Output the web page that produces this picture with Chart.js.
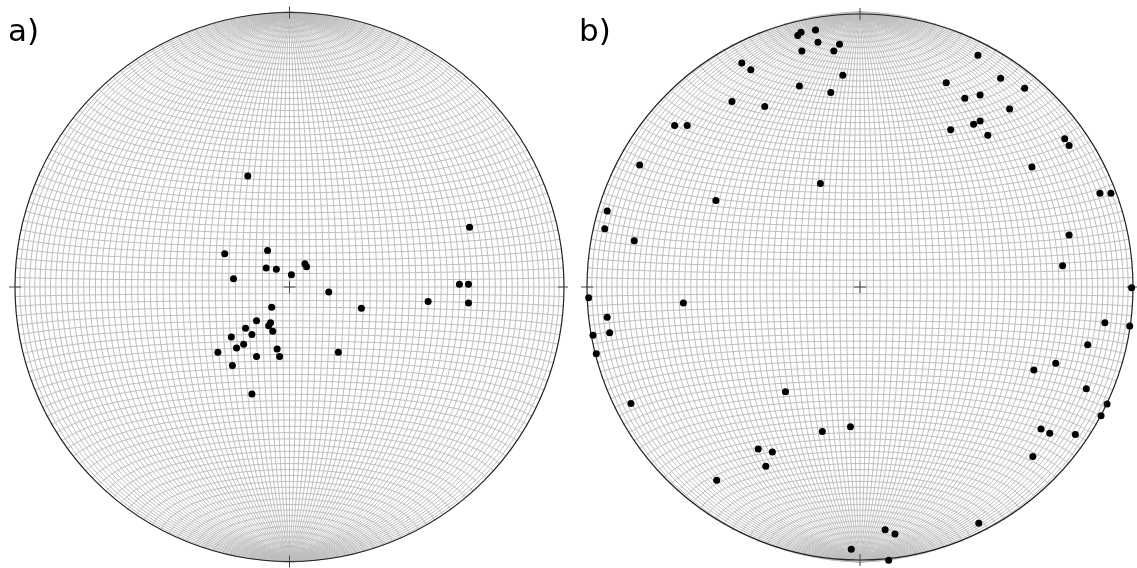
<!DOCTYPE html>
<html>
<head>
    <title>Stereonets a) and b)</title>
    <script src="https://cdn.jsdelivr.net/npm/chart.js"></script>
    <style>
        body { margin: 0; background: #fff; }
        #wrap { position: relative; width: 1137px; height: 568px; overflow: hidden; }
        canvas { position: absolute; top: 0; }
        .lbl { position: absolute; top: 12px; font-family: "DejaVu Sans", sans-serif; font-size: 31px; color: #000; }
    </style>
</head>
<body>
<div id="wrap">
    <canvas id="netA" width="568" height="568" style="left:0"></canvas>
    <canvas id="netB" width="569" height="568" style="left:568px"></canvas>
    <div class="lbl" style="left:8px">a)</div>
    <div class="lbl" style="left:579px">b)</div>
</div>

<script>
    // projected positions (unit circle, equal-area net)
    const aX = [-0.152, -0.236, -0.080, -0.085, -0.048, 0.056, 0.062, 0.007, -0.204, 0.143,
                0.262, -0.065, -0.120, -0.069, -0.076, -0.160, -0.137, -0.061, -0.212, -0.167,
                -0.193, -0.261, -0.045, -0.036, -0.120, -0.208, 0.178, -0.137, 0.656, 0.619,
                0.652, 0.505, 0.652];
    const aY = [0.404, 0.121, 0.133, 0.069, 0.065, 0.085, 0.074, 0.045, 0.030, -0.018,
                -0.077, -0.074, -0.123, -0.130, -0.141, -0.150, -0.173, -0.161, -0.182, -0.208,
                -0.222, -0.237, -0.225, -0.253, -0.253, -0.285, -0.237, -0.389, 0.217, 0.010,
                0.010, -0.053, -0.058];

    const bX = [-0.216, -0.228, -0.163, -0.154, -0.075, -0.213, -0.096, -0.433, -0.400, -0.063,
                -0.222, -0.107, -0.469, -0.349, -0.679, -0.633, -0.807, 0.432, 0.316, 0.515,
                0.603, 0.384, 0.440, 0.548, 0.440, 0.416, 0.332, 0.468, 0.750, 0.766,
                0.630, 0.879, 0.919, 0.766, -0.145, -0.528, -0.926, -0.935, -0.827, -0.994,
                -0.647, -0.926, -0.978, -0.917, -0.966, -0.273, -0.839, 0.742, 0.995, 0.897,
                0.988, 0.834, 0.717, 0.637, 0.829, 0.905, 0.883, 0.663, 0.695, 0.789,
                0.633, -0.035, -0.138, -0.373, -0.321, -0.345, -0.525, 0.092, 0.128, -0.032,
                0.105, 0.435];
    const bY = [0.926, 0.915, 0.935, 0.890, 0.883, 0.858, 0.858, 0.815, 0.790, 0.770,
                0.731, 0.707, 0.675, 0.656, 0.587, 0.587, 0.444, 0.843, 0.743, 0.759,
                0.723, 0.686, 0.698, 0.647, 0.604, 0.592, 0.572, 0.552, 0.539, 0.515,
                0.436, 0.341, 0.341, 0.189, 0.376, 0.315, 0.276, 0.212, 0.168, -0.039,
                -0.058, -0.110, -0.175, -0.166, -0.243, -0.381, -0.424, 0.077, -0.003, -0.130,
                -0.142, -0.210, -0.277, -0.302, -0.370, -0.425, -0.468, -0.516, -0.532, -0.536,
                -0.616, -0.508, -0.525, -0.589, -0.600, -0.652, -0.703, -0.883, -0.898, -0.954,
                -0.994, -0.859];

    const GRID_STEP = 2; // degrees

    // Lambert equal-area, equatorial aspect, scaled so the primitive has radius 1
    function project(lonDeg, latDeg) {
        const lon = lonDeg * Math.PI / 180, lat = latDeg * Math.PI / 180;
        const k = Math.sqrt(2 / (1 + Math.cos(lat) * Math.cos(lon))) / Math.SQRT2;
        return [k * Math.cos(lat) * Math.sin(lon), k * Math.sin(lat)];
    }

    const netPlugin = {
        id: 'net',
        beforeDatasetsDraw(chart) {
            const ctx = chart.ctx, sx = chart.scales.x, sy = chart.scales.y;
            const px = v => sx.getPixelForValue(v), py = v => sy.getPixelForValue(v);
            const cx = px(0), cy = py(0), r = px(1) - px(0);

            ctx.save();
            ctx.strokeStyle = '#bdbdbd';
            ctx.lineWidth = 1;
            // meridians
            for (let lon = -90 + GRID_STEP; lon < 90; lon += GRID_STEP) {
                ctx.beginPath();
                for (let lat = -90; lat <= 90; lat += 1) {
                    const p = project(lon, lat);
                    if (lat === -90) ctx.moveTo(px(p[0]), py(p[1]));
                    else ctx.lineTo(px(p[0]), py(p[1]));
                }
                ctx.stroke();
            }
            // parallels
            for (let lat = -90 + GRID_STEP; lat < 90; lat += GRID_STEP) {
                ctx.beginPath();
                for (let lon = -90; lon <= 90; lon += 1) {
                    const p = project(lon, lat);
                    if (lon === -90) ctx.moveTo(px(p[0]), py(p[1]));
                    else ctx.lineTo(px(p[0]), py(p[1]));
                }
                ctx.stroke();
            }

            // primitive circle
            ctx.strokeStyle = '#222';
            ctx.lineWidth = 1.2;
            ctx.beginPath();
            ctx.arc(cx, cy, r, 0, Math.PI * 2);
            ctx.stroke();

            // cardinal ticks and centre cross
            ctx.strokeStyle = '#444';
            ctx.lineWidth = 1;
            const t = 6;
            ctx.beginPath();
            ctx.moveTo(cx - t, cy); ctx.lineTo(cx + t, cy);
            ctx.moveTo(cx, cy - t); ctx.lineTo(cx, cy + t);
            ctx.moveTo(cx - r - t, cy); ctx.lineTo(cx - r + t, cy);
            ctx.moveTo(cx + r - t, cy); ctx.lineTo(cx + r + t, cy);
            ctx.moveTo(cx, cy - r - t); ctx.lineTo(cx, cy - r + t);
            ctx.moveTo(cx, cy + r - t); ctx.lineTo(cx, cy + r + t);
            ctx.stroke();
            ctx.restore();
        }
    };

    function makeNet(id, xs, ys, padding) {
        const pts = xs.map((x, i) => ({ x: x, y: ys[i] }));
        new Chart(document.getElementById(id), {
            type: 'scatter',
            data: {
                datasets: [{
                    data: pts,
                    backgroundColor: '#000',
                    borderWidth: 0,
                    pointRadius: 3.5,
                    clip: false
                }]
            },
            options: {
                responsive: false,
                animation: false,
                layout: { padding: padding },
                plugins: { legend: { display: false }, tooltip: { enabled: false } },
                scales: {
                    x: { type: 'linear', min: -1, max: 1, display: false },
                    y: { type: 'linear', min: -1, max: 1, display: false }
                }
            },
            plugins: [netPlugin]
        });
    }

    makeNet('netA', aX, aY, { left: 15, right: 3, top: 12, bottom: 6 });
    makeNet('netB', bX, bY, { left: 19, right: 0, top: 12, bottom: 6 });
</script>
</body>
</html>
